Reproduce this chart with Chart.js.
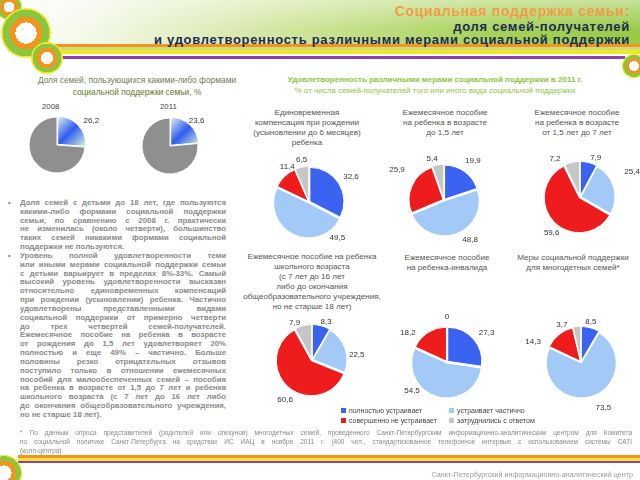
<!DOCTYPE html>
<html>
<head>
<meta charset="utf-8">
<script src="https://cdn.jsdelivr.net/npm/chart.js@4"></script>
<style>
  body { margin:0; width:640px; height:480px; overflow:hidden; background:#fff; font-family:"Liberation Sans", Arial, sans-serif; position:relative; }
  .abs { position:absolute; }
  .hdr { left:0; top:0; width:640px; height:44px;
    background: linear-gradient(to bottom, rgba(255,255,255,0.45), rgba(255,255,255,0) 70%),
                linear-gradient(to right, #fff 0%, #f2f8e6 15%, #cfe59c 45%, #a9d35c 75%, #98ca45 100%); }
  .ring { border-radius:50%; }
  .ttl { right:10px; text-align:right; font-weight:bold; white-space:nowrap; }
  .ptitle { text-align:center; font-size:8.1px; line-height:10px; color:#555; white-space:nowrap; transform:translateX(-50%); }
  .body { left:4px; top:199px; width:222px; font-size:7.8px; line-height:8.83px; font-weight:bold; color:#8a8a8a; }
  .body p { margin:0; padding-left:16px; position:relative; }
  .body p::before { content:"•"; position:absolute; left:4px; top:0; }
  .ln { display:block; white-space:nowrap; text-align:justify; text-align-last:justify; }
  .ln.end { text-align-last:left; }
  .leg { font-size:7px; color:#444; white-space:nowrap; }
  .leg i { display:inline-block; width:5px; height:5px; margin-right:3px; vertical-align:0; }
  canvas { position:absolute; }
</style>
</head>
<body>
<!-- header -->
<div class="abs hdr"></div>
<div class="abs" style="left:55px;top:44px;width:585px;height:3px;background:#f6921e"></div>
<div class="abs" style="left:58px;top:47px;width:582px;height:3px;background:#c9e07a"></div>
<div class="abs" style="left:52px;top:50px;width:588px;height:4px;background:#eee82a"></div>
<div class="abs" style="left:50px;top:56px;width:575px;height:3px;background:#8e3fb4"></div>
<div class="abs ring" style="left:-4px;top:-6px;width:26px;height:26px;background:radial-gradient(circle, #fff 0 30%, #f6921e 30% 48%, #8cc63f 48% 66%, #eee82a 66% 80%, #8e3fb4 80% 100%)"></div>
<div class="abs ring" style="left:1px;top:8px;width:50px;height:50px;background:radial-gradient(circle, #fff 0 30%, #f6921e 30% 46%, #8cc63f 46% 66%, #eee82a 66% 78%, #fff 78% 82%, #8e3fb4 82% 100%)"></div>
<div class="abs ring" style="left:31px;top:42px;width:32px;height:32px;background:radial-gradient(circle, #fff 0 28%, #f6921e 28% 46%, #8cc63f 46% 64%, #eee82a 64% 76%, #fff 76% 80%, #8e3fb4 80% 100%)"></div>
<div class="abs ring" style="left:622px;top:54px;width:24px;height:24px;background:radial-gradient(circle, #fff 0 30%, #f6921e 30% 46%, #8cc63f 46% 64%, #eee82a 64% 78%, #8e3fb4 78% 100%)"></div>

<div class="abs ttl" style="top:3px;font-size:14px;line-height:17px;letter-spacing:0.7px;color:#f39c4a">Социальная поддержка семьи:</div>
<div class="abs ttl" style="top:20px;font-size:13px;line-height:14px;letter-spacing:0.7px;color:#1f2a55">доля семей-получателей</div>
<div class="abs ttl" style="top:33px;font-size:13px;line-height:14px;letter-spacing:0.7px;color:#1f2a55">и удовлетворенность различными мерами социальной поддержки</div>

<!-- left block -->
<div class="abs ptitle" style="left:137px;top:74px;font-size:8.4px;line-height:12px;color:#6f7a55">Доля семей, пользующихся какими-либо формами<br><span style="color:#5b7a1e">социальной поддержки семьи, %</span></div>
<div class="abs" style="left:42px;top:102px;font-size:7.8px;color:#444">2008</div>
<div class="abs" style="left:160px;top:102px;font-size:7.8px;color:#444">2011</div>
<canvas id="p2008" width="100" height="90" style="left:7px;top:100px"></canvas>
<canvas id="p2011" width="100" height="90" style="left:120px;top:101px"></canvas>

<div class="abs body">
  <p><span class="ln">Доля семей с детьми до 18 лет, где пользуются</span><span class="ln">какими-либо формами социальной поддержки</span><span class="ln">семьи, по сравнению с 2008 г. практически</span><span class="ln">не изменилась (около четверти), большинство</span><span class="ln">таких семей никакими формами социальной</span><span class="ln end">поддержки не пользуются.</span></p>
  <p><span class="ln">Уровень полной удовлетворенности теми</span><span class="ln">или иными мерами социальной поддержки семьи</span><span class="ln">с детьми варьирует в пределах 8%-33%. Самый</span><span class="ln">высокий уровень удовлетворенности высказан</span><span class="ln">относительно единовременных компенсаций</span><span class="ln">при рождении (усыновлении) ребенка. Частично</span><span class="ln">удовлетворены представленными видами</span><span class="ln">социальной поддержки от примерно четверти</span><span class="ln">до трех четвертей семей-получателей.</span><span class="ln">Ежемесячное пособие на ребенка в возрасте</span><span class="ln">от рождения до 1,5 лет удовлетворяет 20%</span><span class="ln">полностью и еще 49% – частично. Больше</span><span class="ln">половины резко отрицательных отзывов</span><span class="ln">поступило только в отношении ежемесячных</span><span class="ln">пособий для малообеспеченных семей – пособия</span><span class="ln">на ребенка в возрасте от 1,5 до 7 лет и ребенка</span><span class="ln">школьного возраста (с 7 лет до 16 лет либо</span><span class="ln">до окончания общеобразовательного учреждения,</span><span class="ln end">но не старше 18 лет).</span></p>
</div>

<!-- right block -->
<div class="abs ptitle" style="left:435px;top:74px;font-size:8px;line-height:11px;color:#8dc63f"><b>Удовлетворенность различными мерами социальной поддержки в 2011 г.</b><br>% от числа семей-получателей того или иного вида социальной поддержки</div>

<div class="abs ptitle" style="left:307px;top:108px">Единовременная<br>компенсация при рождении<br>(усыновлении до 6 месяцев)<br>ребенка</div>
<div class="abs ptitle" style="left:445px;top:108px">Ежемесячное пособие<br>на ребенка в возрасте<br>до 1,5 лет</div>
<div class="abs ptitle" style="left:577px;top:108px">Ежемесячное пособие<br>на ребенка в возрасте<br>от 1,5 лет до 7 лет</div>
<div class="abs ptitle" style="left:312px;top:252px">Ежемесячное пособие на ребенка<br>школьного возраста<br>(с 7 лет до 16 лет<br>либо до окончания<br>общеобразовательного учреждения,<br>но не старше 18 лет)</div>
<div class="abs ptitle" style="left:447px;top:253px">Ежемесячное пособие<br>на ребенка-инвалида</div>
<div class="abs ptitle" style="left:573px;top:253px">Меры социальной поддержки<br>для многодетных семей*</div>

<canvas id="s1" width="140" height="110" style="left:239px;top:147px"></canvas>
<canvas id="s2" width="140" height="110" style="left:374px;top:145px"></canvas>
<canvas id="s3" width="140" height="110" style="left:510px;top:142px"></canvas>
<canvas id="s4" width="140" height="110" style="left:242px;top:305px"></canvas>
<canvas id="s5" width="140" height="110" style="left:377px;top:307px"></canvas>
<canvas id="s6" width="140" height="110" style="left:511px;top:307px"></canvas>

<div class="abs leg" id="legend" style="left:341px;top:406px;line-height:10px"></div>

<!-- footnote & footer -->
<div class="abs" style="left:20px;top:428px;width:612px;font-size:6.5px;line-height:9px;color:#8a8a8a">
  <span class="ln">* По данным опроса представителей (родителей или опекунов) многодетных семей, проведенного Санкт-Петербургским информационно-аналитическим центром для Комитета</span><span class="ln">по социальной политике Санкт-Петербурга на средствах ИС ИАЦ в ноябре 2011 г. (400 чел., стандартизованное телефонное интервью с использованием системы CATI</span><span class="ln end">(колл-центра).</span>
</div>
<div class="abs" style="left:18px;top:455px;width:622px;height:3px;background:#f6921e"></div>
<div class="abs" style="left:18px;top:458px;width:622px;height:3px;background:#eee82a"></div>
<div class="abs" style="left:18px;top:461px;width:622px;height:2px;background:#8e3fb4"></div>
<div class="abs ring" style="left:-14px;top:455px;width:36px;height:36px;background:radial-gradient(circle, #fff 0 30%, #f6921e 30% 48%, #8cc63f 48% 66%, #eee82a 66% 80%, #8e3fb4 80% 100%)"></div>
<div class="abs" style="right:7px;top:470px;font-size:7.2px;color:#9a9a9a">Санкт-Петербургский информационно-аналитический центр</div>

<script>
// DATA
const legendLabels = ['полностью устраивает', 'устраивает частично', 'совершенно не устраивает', 'затруднились с ответом'];
const use2008 = [26.2, 73.8];
const use2011 = [23.6, 76.4];

const lumpSum = [32.6, 49.5, 11.4, 6.5];        // единовременная компенсация
const upTo15 = [19.9, 48.8, 25.9, 5.4];         // до 1,5 лет
const from15to7 = [7.9, 25.4, 59.6, 7.2];       // от 1,5 до 7 лет
const schoolAge = [8.3, 22.5, 60.6, 7.9];       // школьного возраста
const disabled = [27.3, 54.5, 18.2, 0];         // ребенок-инвалид
const largeFam = [8.5, 73.5, 14.3, 3.7];        // многодетные семьи

const satColors = ['#3a63f2', '#a3c9f7', '#ee1c1c', '#c6c6c6'];

// labels outside the slices: [angle from top (deg), gap beyond radius]
const outLabels = {
  id: 'outLabels',
  afterDatasetsDraw(chart, args, opts) {
    const ctx = chart.ctx;
    const arcs = chart.getDatasetMeta(0).data;
    const vals = chart.data.datasets[0].data;
    ctx.save();
    ctx.font = '8px "Liberation Sans", Arial, sans-serif';
    ctx.fillStyle = '#333';
    ctx.textAlign = 'center';
    ctx.textBaseline = 'middle';
    arcs.forEach((arc, i) => {
      const pos = opts.pos && opts.pos[i];
      if (!pos) return;
      const a = (pos[0] - 90) * Math.PI / 180;
      const d = arc.outerRadius + pos[1];
      ctx.fillText(String(vals[i]).replace('.', ','), arc.x + Math.cos(a) * d, arc.y + Math.sin(a) * d);
    });
    ctx.restore();
  }
};

function baseOpts(radius, pos) {
  return {
    responsive: false,
    animation: false,
    radius: radius,
    plugins: { legend: { display: false }, tooltip: { enabled: false }, outLabels: { pos: pos } }
  };
}

function satPie(id, values, pos) {
  new Chart(document.getElementById(id), {
    type: 'pie',
    data: {
      labels: legendLabels,
      datasets: [{ data: values, backgroundColor: satColors, borderColor: '#fff', borderWidth: 1, offset: 4 }]
    },
    options: baseOpts(34, pos),
    plugins: [outLabels]
  });
}

function usePie(id, values, pos) {
  new Chart(document.getElementById(id), {
    type: 'pie',
    data: {
      labels: ['пользуются', 'не пользуются'],
      datasets: [{
        data: values,
        backgroundColor: (c) => {
          if (c.dataIndex === 1) return '#8f8f8f';
          const ch = c.chart, cx = ch.width / 2, cy = ch.height / 2, r = 28;
          const g = ch.ctx.createLinearGradient(cx, cy - r, cx + r, cy);
          g.addColorStop(0, '#e4f6ee');
          g.addColorStop(0.5, '#2f5cf0');
          g.addColorStop(1, '#cdeedd');
          return g;
        },
        borderColor: '#fff', borderWidth: 1, offset: [4, 0]
      }]
    },
    options: baseOpts(28, pos),
    plugins: [outLabels]
  });
}

usePie('p2008', use2008, [[55, 14], null]);
usePie('p2011', use2011, [[46, 9], null]);

satPie('s1', lumpSum, [[59, 15], [142, 12], [328, 7], [350, 9]]);
satPie('s2', upTo15, [[36, 15], [147, 14], [303, 22], [344, 9]]);
satPie('s3', from15to7, [[22, 8], [64, 24], [218, 12], [327, 12]]);
satPie('s4', schoolAge, [[20, 7], [84, 11], [214, 14], [335, 7]]);
satPie('s5', disabled, [[54, 15], [231, 11], [307, 15], [0, 11]]);
satPie('s6', largeFam, [[14, 7], [154, 17], [293, 18], [333, 8]]);

// legend
const leg = document.getElementById('legend');
leg.innerHTML = legendLabels.map((t, k) =>
  `<span style="display:inline-block;width:${k % 2 ? 90 : 108}px"><i style="background:${satColors[k]}"></i>${t}</span>` + (k % 2 ? '<br>' : '')
).join('');
</script>
</body>
</html>
